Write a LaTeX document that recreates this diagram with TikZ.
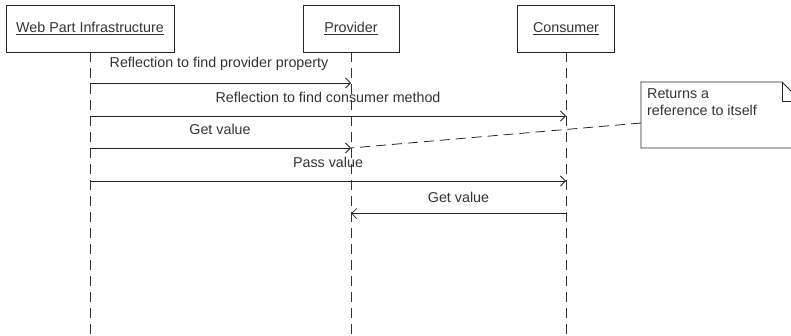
\documentclass[tikz,border=0pt]{standalone}
\usepackage{fontspec}
\setmainfont{Liberation Sans}
\usetikzlibrary{arrows.meta}
\begin{document}
\begin{tikzpicture}[x=1pt,y=-1pt,
  every node/.style={font=\fontsize{14.3}{17.5}\selectfont, text=black!80},
  actor/.style={draw=black!85, line width=0.8pt, minimum height=47pt, inner sep=0pt},
  life/.style={draw=black!80, line width=0.8pt, dash pattern=on 10pt off 6pt},
  msg/.style={draw=black!85, line width=0.8pt, -{Straight Barb[length=5pt,width=10pt]}},
  lbl/.style={inner sep=0pt},
  noteline/.style={draw=black!85, line width=0.8pt}]
\useasboundingbox (0,0) rectangle (791,336);
% actors
\node[actor, minimum width=168pt] (wpi) at (90,28.5) {\underline{Web Part Infrastructure}};
\node[actor, minimum width=96pt] (prov) at (351,28.5) {\underline{Provider}};
\node[actor, minimum width=97pt] (cons) at (566,28.5) {\underline{Consumer}};
% lifelines
\coordinate (wpiend) at (90,336);
\coordinate (provend) at (351,336);
\coordinate (consend) at (566,336);
\draw[life] (wpi.south) -- (wpiend);
\draw[life] (prov.south) -- (provend);
\draw[life] (cons.south) -- (consend);
% message points
\coordinate (w1) at (90,83);   \coordinate (p1) at (351,83);
\coordinate (w2) at (90,116);  \coordinate (c2) at (566,116);
\coordinate (w3) at (90,148);  \coordinate (p3) at (351,148);
\coordinate (w4) at (90,181);  \coordinate (c4) at (566,181);
\coordinate (c5) at (566,213.5); \coordinate (p5) at (351,213.5);
% messages
\draw[msg] (w1) -- (p1);
\node[lbl] (l1) at (219,64) {Reflection to find provider property};
\draw[msg] (w2) -- (c2);
\node[lbl] (l2) at (328,97) {Reflection to find consumer method};
\draw[msg] (w3) -- (p3);
\node[lbl] (l3) at (220,129) {Get value};
\draw[msg] (w4) -- (c4);
\node[lbl] (l4) at (328,162) {Pass value};
\draw[msg] (c5) -- (p5);
\node[lbl] (l5) at (458.5,197) {Get value};
% note
\node[anchor=north west, align=left, inner sep=0pt] (note) at (647,88) {Returns a\\reference to itself};
\coordinate (nw) at (641,82);
\coordinate (nl) at (641,123);
\begin{scope}
\clip (0,0) rectangle (791,336);
\draw[noteline] (800,148) -- (641,148) -- (nw) -- (782,82) -- (801,101);
\draw[noteline] (782,82) -- (782,101) -- (801,101);
\end{scope}
\draw[draw=black!85, line width=0.8pt, dash pattern=on 10pt off 6pt] (nl) -- (p3);
\end{tikzpicture}
\end{document}
